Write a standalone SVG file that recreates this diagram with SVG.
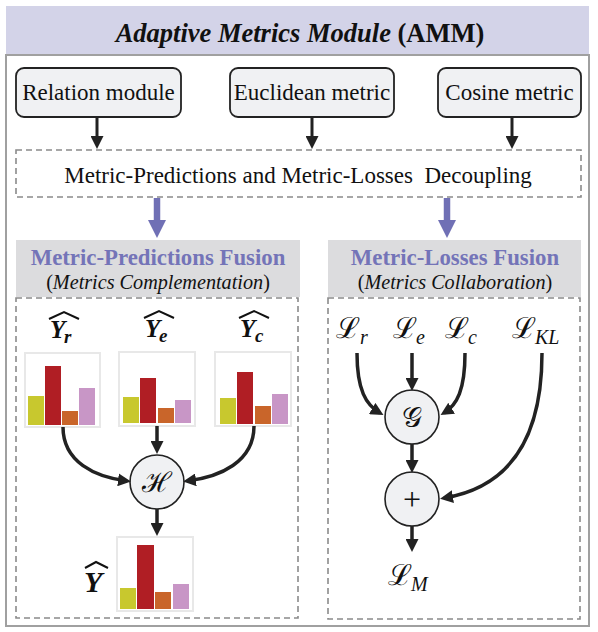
<svg xmlns="http://www.w3.org/2000/svg" width="598" height="632" viewBox="0 0 598 632">
<style>
text{font-family:"Liberation Serif","Times New Roman",serif;fill:#111}
.box{fill:#f0f1f3;stroke:#222;stroke-width:1.8}
.dash{fill:none;stroke:#8a8a8a;stroke-width:1.6;stroke-dasharray:6 4}
.hdr{fill:#dcdcde}
.pt{font-weight:bold;fill:#7474b8;font-size:22.8px}
.sub{font-size:20.2px}
.lbl{font-size:23px}
.con{fill:none;stroke:#222;stroke-width:3.5}
.thin{fill:none;stroke:#222;stroke-width:3}
.circ{fill:#f0f1f3;stroke:#222;stroke-width:1.6}
.frame{fill:#fff;stroke:#e8e8e8;stroke-width:2}
.b1{fill:#c8c82e}.b2{fill:#b01e24}.b3{fill:#c9652a}.b4{fill:#c896c6}
.math{font-family:"DejaVu Serif","Liberation Serif",serif}
.hat{fill:none;stroke:#111;stroke-width:2}
</style>
<defs>
<marker id="ah" markerUnits="userSpaceOnUse" markerWidth="13" markerHeight="13" refX="9" refY="6.5" orient="auto"><path d="M0,0 L13,6.5 L0,13 z" fill="#222"/></marker>
<marker id="ahp" markerUnits="userSpaceOnUse" markerWidth="18" markerHeight="18" refX="2" refY="9" orient="auto"><path d="M0,0 L18,9 L0,18 z" fill="#7070b5"/></marker>
</defs>

<g id="frame">
<rect x="6" y="6" width="583" height="49" fill="#d3d3e8"/>
<rect x="6" y="55" width="583" height="571" fill="none" stroke="#a0a0a0" stroke-width="2"/>
<text x="300" y="42" text-anchor="middle" font-size="26.5" font-weight="bold"><tspan font-style="italic">Adaptive Metrics Module</tspan> (AMM)</text>
</g>

<g id="relation"><rect class="box" x="16" y="68" width="165" height="49" rx="8"/><text class="lbl" x="98.5" y="100" text-anchor="middle">Relation module</text></g>
<g id="euclidean"><rect class="box" x="230" y="68" width="164" height="49" rx="8"/><text class="lbl" x="312" y="100" text-anchor="middle">Euclidean metric</text></g>
<g id="cosine"><rect class="box" x="438" y="68" width="143" height="49" rx="8"/><text class="lbl" x="509.5" y="100" text-anchor="middle">Cosine metric</text></g>

<g id="decoupling"><rect class="dash" x="16" y="150" width="565" height="47"/><text class="lbl" x="298" y="183" text-anchor="middle" xml:space="preserve">Metric-Predictions and Metric-Losses  Decoupling</text></g>

<g id="pred-header"><rect class="hdr" x="16" y="240" width="284" height="57"/><text class="pt" x="158" y="265" text-anchor="middle">Metric-Predictions Fusion</text><text class="sub" x="158" y="289" text-anchor="middle">(<tspan font-style="italic">Metrics Complementation</tspan>)</text></g>
<g id="loss-header"><rect class="hdr" x="328" y="240" width="253" height="57"/><text class="pt" x="455" y="265" text-anchor="middle">Metric-Losses Fusion</text><text class="sub" x="455" y="289" text-anchor="middle">(<tspan font-style="italic">Metrics Collaboration</tspan>)</text></g>

<g id="pred-panel"><rect class="dash" x="16" y="298" width="282" height="320"/></g>
<g id="loss-panel"><rect class="dash" x="328" y="298" width="252" height="321"/></g>

<g id="chart-r">
<polyline class="hat" points="49,319 64,312 79,319"/>
<text x="50" y="338" font-size="25" font-weight="bold" font-style="italic">Y</text><text x="64" y="343" font-size="19" font-weight="bold" font-style="italic">r</text>
<rect class="frame" x="25" y="353" width="75" height="74"/>
<rect class="b1" x="28" y="396" width="16" height="29"/><rect class="b2" x="45" y="366" width="16" height="59"/><rect class="b3" x="62" y="411" width="16" height="14"/><rect class="b4" x="79" y="388" width="16" height="37"/>
</g>
<g id="chart-e">
<polyline class="hat" points="144,318 159,311 174,318"/>
<text x="145" y="337" font-size="25" font-weight="bold" font-style="italic">Y</text><text x="159" y="342" font-size="19" font-weight="bold" font-style="italic">e</text>
<rect class="frame" x="119" y="352" width="76" height="74"/>
<rect class="b1" x="123" y="397" width="16" height="26"/><rect class="b2" x="140" y="378" width="16" height="45"/><rect class="b3" x="158" y="408" width="16" height="15"/><rect class="b4" x="175" y="400" width="16" height="23"/>
</g>
<g id="chart-c">
<polyline class="hat" points="239,318 254,311 269,318"/>
<text x="240" y="337" font-size="25" font-weight="bold" font-style="italic">Y</text><text x="255" y="342" font-size="19" font-weight="bold" font-style="italic">c</text>
<rect class="frame" x="215" y="352" width="76" height="74"/>
<rect class="b1" x="220" y="398" width="16" height="26"/><rect class="b2" x="237" y="372" width="16" height="52"/><rect class="b3" x="255" y="406" width="16" height="18"/><rect class="b4" x="272" y="394" width="16" height="30"/>
</g>
<g id="chart-out">
<polyline class="hat" points="85,568 96,562 108,568"/>
<text x="84" y="592" font-size="30" font-weight="bold" font-style="italic">Y</text>
<rect class="frame" x="117" y="537" width="76" height="74"/>
<rect class="b1" x="120" y="588" width="16" height="21"/><rect class="b2" x="137" y="545" width="17" height="64"/><rect class="b3" x="155" y="592" width="16" height="17"/><rect class="b4" x="173" y="584" width="16" height="25"/>
</g>
<g id="H"><circle class="circ" cx="157" cy="482" r="27"/><text class="math" x="157" y="492" font-size="28" text-anchor="middle">ℋ</text></g>

<g id="loss-labels" class="math">
<text x="336" y="338" font-size="29">ℒ</text><text x="360" y="344" font-size="20" font-style="italic">r</text>
<text x="393" y="338" font-size="29">ℒ</text><text x="416" y="344" font-size="20" font-style="italic">e</text>
<text x="445" y="338" font-size="29">ℒ</text><text x="468" y="344" font-size="20" font-style="italic">c</text>
<text x="512" y="338" font-size="29">ℒ</text><text x="535" y="344" font-size="20" font-style="italic">KL</text>
<text x="388" y="585" font-size="29">ℒ</text><text x="411" y="591" font-size="20" font-style="italic">M</text>
</g>
<g id="G"><circle class="circ" cx="412" cy="417" r="27"/><text class="math" x="412" y="427" font-size="28" text-anchor="middle">𝒢</text></g>
<g id="plus"><circle class="circ" cx="412" cy="499" r="27"/><text x="412" y="510" font-size="32" text-anchor="middle">+</text></g>

<g id="connectors">
<line class="thin" x1="97" y1="117" x2="97" y2="145" marker-end="url(#ah)"/>
<line class="thin" x1="312" y1="117" x2="312" y2="145" marker-end="url(#ah)"/>
<line class="thin" x1="512" y1="117" x2="512" y2="145" marker-end="url(#ah)"/>
<line x1="157" y1="198" x2="157" y2="222" stroke="#7070b5" stroke-width="6.5" marker-end="url(#ahp)"/>
<line x1="447" y1="198" x2="447" y2="222" stroke="#7070b5" stroke-width="6.5" marker-end="url(#ahp)"/>
<path class="con" d="M63,427 C63,462 95,477 127,481" marker-end="url(#ah)"/>
<path class="con" d="M254,426 C254,462 220,477 187,481" marker-end="url(#ah)"/>
<line class="con" x1="157" y1="426" x2="157" y2="450" marker-end="url(#ah)"/>
<line class="con" x1="157" y1="509" x2="157" y2="532" marker-end="url(#ah)"/>
<path class="con" d="M357,353 C357,390 366,405 380,413" marker-end="url(#ah)"/>
<line class="con" x1="412" y1="353" x2="412" y2="387" marker-end="url(#ah)"/>
<path class="con" d="M465,353 C465,390 457,405 444,413" marker-end="url(#ah)"/>
<line class="con" x1="412" y1="444" x2="412" y2="469" marker-end="url(#ah)"/>
<path class="con" d="M542,353 C542,445 505,488 444,498" marker-end="url(#ah)"/>
<line class="con" x1="412" y1="526" x2="412" y2="548" marker-end="url(#ah)"/>
</g>
</svg>
